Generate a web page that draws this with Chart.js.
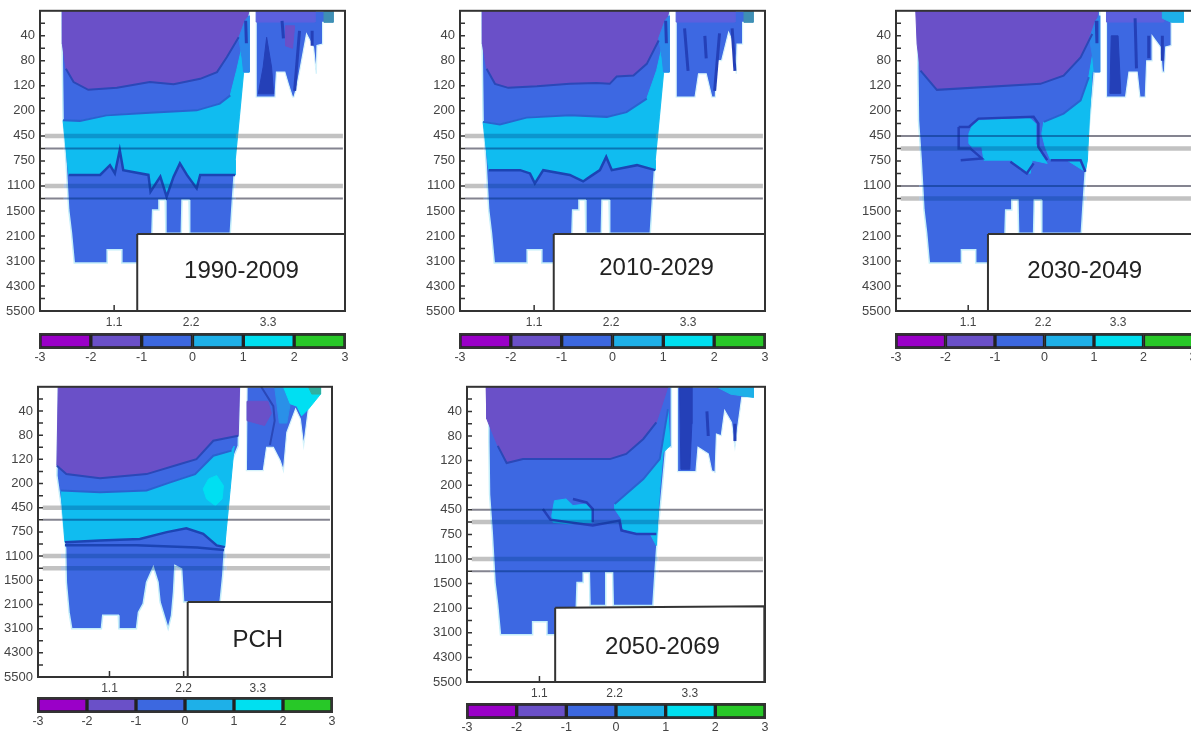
<!DOCTYPE html>
<html>
<head>
<meta charset="utf-8">
<title>Depth sections</title>
<script src="https://cdn.jsdelivr.net/npm/chart.js@4"></script>
<style>
	html, body { margin: 0; padding: 0; background: #fff; overflow: hidden; width: 1191px; height: 733px; }
	canvas { position: absolute; filter: blur(0.6px); }
</style>
</head>
<body>
<script>
// axis labels
const depthLabels = [40, 80, 120, 200, 450, 750, 1100, 1500, 2100, 3100, 4300, 5500];
const xTicks = [1.1, 2.2, 3.3];
const barEdges = [-3, -2, -1, 0, 1, 2, 3];
const barColors = ['#9a00c8', '#6a50c8', '#3c68e0', '#1eb0e8', '#00e0f0', '#28c828'];
const grayRows = [5, 5.5, 7, 7.5];
// where the gray rows cross the coloured part
const basinSpan = [.38, 2.84];

const PURPLE = '#6a50c8', BLUE = '#3d68e2', CYAN = '#10bcf0', AQUA = '#00dff2', TEAL = '#3f8fb5';
const NAVY = '#2440b8', LINE = '#2a48b8', STRIP = '#2c86ea', ISLANDTOP = '#5c60de';

// outlines, [x, depth row]
const basin = [[.35,0],[.36,2.25],[.37,4.38],[.41,5.97],[.45,7.96],[.49,8.89],[.53,10.08],[1,10.08],[1,9.55],[1.21,9.55],[1.21,10.08],[1.61,10.08],[1.64,8.89],[1.65,7.96],[1.74,7.96],[1.74,7.56],[1.83,7.56],[1.84,8.89],[2.06,8.89],[2.07,7.56],[2.17,7.56],[2.18,8.89],[2.76,8.89],[2.79,7.56],[2.83,5.97],[2.89,4.24],[2.95,2.45],[3.03,2.45],[3.03,0]];
const basinPch = [[.34,0],[.32,3.67],[.39,5.05],[.45,6.7],[.46,8.08],[.5,9.32],[.54,10],[.98,10],[1,9.45],[1.23,9.45],[1.24,10],[1.5,10],[1.53,9.32],[1.6,8.97],[1.65,8.08],[1.75,7.46],[1.82,8.08],[1.85,8.9],[1.97,10],[2.02,9.45],[2.05,8.49],[2.07,7.39],[2.17,7.53],[2.2,8.9],[2.74,8.9],[2.78,7.8],[2.81,6.43],[2.86,5.05],[2.91,3.12],[3.01,2.44],[3.03,0]];
const rightEdge = [[3.03,2.45],[2.95,2.45],[2.89,4.24],[2.83,5.97]];
const strip = [[2.88,1.1],[2.97,.4],[3.03,.2],[3.03,2.45],[2.95,2.45],[2.93,1.9]];
const stripDark = [[2.98,.4],[2.99,1.3]];
const islandTop = [[3.13,0],[3.97,0],[3.97,.45],[3.13,.45]];

// 1990-2009
const purpleA = [[.36,0],[.36,1.33],[.41,2.32],[.52,2.85],[.73,3.16],[1.14,3.08],[1.61,2.85],[1.95,2.94],[2.33,2.72],[2.57,2.45],[2.71,1.86],[2.88,1.06],[2.97,.53],[3.03,0]];
const cyanTopA = [[.37,4.38],[.61,4.4],[.99,4.18],[1.61,4.08],[2.28,3.98],[2.61,3.71],[2.76,3.38],[2.85,2.39],[2.97,.93]];
const cyanLowA = [[2.83,6.56],[2.33,6.56],[2.28,7.1],[2.14,6.56],[2.04,6.1],[1.95,6.63],[1.85,7.43],[1.76,6.63],[1.62,7.23],[1.59,6.56],[1.23,6.37],[1.18,5.57],[1.11,6.5],[1.04,6.17],[.9,6.56],[.45,6.56]];
const islandA = [[3.13,0],[4.23,0],[4.23,.46],[4.08,.46],[4.08,1.33],[4,1.39],[3.99,2.52],[3.95,1.46],[3.85,.93],[3.78,1.99],[3.71,3.05],[3.67,3.45],[3.65,3.45],[3.59,2.92],[3.54,2.45],[3.42,2.45],[3.4,3.45],[3.13,3.45]];
const islandPurpleA2 = [[3.55,.6],[3.68,.6],[3.65,1.5],[3.55,1.4]];
const tailA = [[3.16,3.32],[3.38,3.32],[3.35,2.25],[3.28,1.06],[3.23,2.25]];
const spikeA1 = [[3.5,.4],[3.52,1.1]];
const spikeA2 = [[3.75,.8],[3.68,3.2]];
const spikeA3 = [[3.93,.8],[3.93,1.4]];
const tealTopA = [[4.1,0],[4.23,0],[4.23,.46],[4.1,.46]];

// 2010-2029
const purpleB = [[.36,0],[.36,1.33],[.42,2.32],[.54,2.92],[.73,3.08],[1.14,3.02],[1.61,2.92],[1.99,2.89],[2.18,2.92],[2.28,2.63],[2.52,2.59],[2.71,2.12],[2.88,1.19],[2.97,.53],[3.03,0]];
const cyanTopB = [[.37,4.44],[.61,4.54],[.99,4.27],[1.61,4.18],[2.14,4.24],[2.42,4.05],[2.71,3.51],[2.85,2.39],[2.97,.93]];
const cyanLowB = [[2.83,6.37],[2.57,6.17],[2.21,6.37],[2.13,5.84],[2.04,6.37],[1.9,6.63],[1.8,6.82],[1.61,6.56],[1.23,6.37],[1.11,6.9],[1.04,6.5],[.9,6.37],[.45,6.37]];
const islandB = [[3.13,0],[4.23,0],[4.23,.46],[4.08,.46],[4.08,1.33],[4,1.33],[3.99,2.52],[3.95,1.33],[3.88,.86],[3.78,1.99],[3.71,1.99],[3.69,3.45],[3.64,3.45],[3.56,2.52],[3.45,2.52],[3.4,3.45],[3.13,3.45]];
const spikeB1 = [[3.25,.7],[3.3,2.4]];
const spikeB2 = [[3.54,1],[3.56,1.9]];
const spikeB3 = [[3.75,.9],[3.68,3.2]];
const spikeB4 = [[3.93,.7],[3.97,2.4]];

// 2030-2049
const purpleC = [[.33,0],[.35,1.33],[.4,2.39],[.64,3.16],[2.16,2.92],[2.5,2.59],[2.75,1.86],[2.92,.93],[3.01,0]];
const blobC = [[1.11,4.91],[1.16,4.58],[1.25,4.38],[2.01,4.31],[2.09,4.51],[2.09,5.31],[2.18,5.77],[2.26,6.1],[2.04,5.97],[2.01,6.5],[1.87,6.37],[1.72,5.97],[1.33,5.97],[1.3,5.44],[1.16,5.44],[1.11,5.31]];
const wedgeC = [[2.21,4.44],[2.5,4.11],[2.75,3.58],[2.87,2.65],[2.97,1.06],[2.98,2.39],[2.92,2.45],[2.88,4.24],[2.85,5.97],[2.82,6.43],[2.55,5.97],[2.31,5.97],[2.23,5.44],[2.18,4.91]];
const contourC1 = [[.96,4.64],[1.11,4.64],[1.25,4.31],[2.06,4.24],[2.13,4.51],[2.13,5.44],[2.26,5.97]];
const contourC2 = [[.96,4.64],[.96,5.5],[1.13,5.5],[1.3,5.9],[.99,5.97]];
const contourC3 = [[1.72,6.03],[1.96,6.5],[2.06,6.1]];
const contourC4 = [[2.31,5.97],[2.75,5.97],[2.82,6.43]];
const contourC5 = [[2.21,4.44],[2.5,4.11],[2.75,3.58],[2.87,2.65],[2.97,1.06]];
const islandC = [[3.13,0],[4.26,0],[4.26,.46],[4.08,.46],[4.08,1.39],[4,1.45],[3.98,2.45],[3.95,2.45],[3.92,1.45],[3.8,1],[3.8,2],[3.72,2],[3.7,3.45],[3.62,3.45],[3.58,2.45],[3.46,2.45],[3.41,3.45],[3.13,3.45]];
const tailC = [[3.18,3.3],[3.34,3.3],[3.3,1],[3.2,1]];
const spikeC1 = [[3.55,.3],[3.57,2.3]];
const spikeC2 = [[3.75,1],[3.75,1.9]];
const spikeC3 = [[3.95,1],[3.95,2]];
const aquaTopC = [[3.95,0],[4.26,0],[4.26,.46],[4.08,.46],[3.95,.3]];

// PCH
const purpleD = [[.34,0],[.32,3.26],[.46,3.61],[.96,3.78],[1.65,3.61],[2.15,3.19],[2.39,2.99],[2.64,2.23],[3.01,2.02],[3.03,0]];
const cyanTopD = [[.38,4.29],[.96,4.36],[1.65,4.29],[2,3.95],[2.37,3.61],[2.64,2.85],[2.91,2.64]];
const cyanLowD = [[2.81,6.63],[2.69,6.56],[2.49,6.08],[2.24,5.85],[1.95,6.01],[1.55,6.29],[.96,6.36],[.44,6.43]];
const lowLineD = [[.44,6.55],[1.5,6.55],[2.4,6.65],[2.8,6.75]];
const blobD = [[2.49,4.22],[2.57,3.81],[2.69,3.67],[2.79,4.09],[2.77,4.64],[2.67,4.91],[2.54,4.64]];
const islandD = [[3.14,0],[4.23,0],[4.23,.3],[4.05,.92],[3.98,2.44],[3.93,1.33],[3.86,.92],[3.73,1.89],[3.68,3.47],[3.63,3.05],[3.53,2.5],[3.43,2.5],[3.38,3.47],[3.13,3.47]];
const islandPurpleD = [[3.14,.6],[3.45,.6],[3.5,1.1],[3.4,1.6],[3.14,1.4]];
const arcD = [[3.35,0],[3.53,.8],[3.55,1.4],[3.48,2.4]];
const bandD = [[3.55,0],[3.68,0],[3.78,.7],[3.73,1.5],[3.62,1.5]];
const aquaD = [[3.68,0],[4.23,0],[4.23,.3],[4.05,.92],[3.95,1.2],[3.88,.8],[3.78,.7]];
const tipD = [[4.05,0],[4.23,0],[4.23,.3],[4.1,.3]];

// 2050-2069
const purpleE = [[.32,0],[.33,1.31],[.49,2.4],[.62,3.1],[.86,2.94],[2.13,2.94],[2.37,2.73],[2.62,2.12],[2.81,1.45],[2.98,0]];
const wedgeE = [[2.2,4.76],[2.62,3.75],[2.86,2.94],[2.98,.91],[3.01,2.4],[2.91,2.67],[2.86,4.15],[2.81,6.45],[2.72,5.98],[2.47,5.91],[2.32,5.78],[2.3,5.37],[2.2,4.97]];
const blobE = [[1.28,5.24],[1.32,4.63],[1.49,4.56],[1.59,4.83],[1.79,4.76],[1.86,4.97],[1.86,5.51],[1.54,5.57],[1.3,5.51]];
const contourE1 = [[1.15,4.97],[1.26,5.4],[1.88,5.64],[2.27,5.44],[2.3,5.84],[2.52,5.98],[2.81,5.98]];
const contourE2 = [[1.59,4.56],[1.79,4.7],[1.88,4.97],[1.88,5.5]];
const contourE3 = [[2.2,4.76],[2.62,3.75],[2.86,2.94],[2.98,.91]];
const islandE = [[3.12,0],[4.23,0],[4.23,.43],[4.06,.43],[4.01,1.45],[3.96,2.46],[3.91,1.45],[3.81,.97],[3.76,1.99],[3.69,1.92],[3.67,3.48],[3.62,3.41],[3.57,2.73],[3.42,2.46],[3.39,3.45],[3.12,3.45]];
const tailE = [[3.15,0],[3.33,0],[3.33,1.5],[3.3,3.35],[3.17,3.35]];
const spikeE1 = [[3.55,1],[3.57,2]];
const spikeE2 = [[3.96,1.5],[3.96,2.2]];
const tealTopE = [[3.69,0],[4.23,0],[4.23,.43],[3.9,.3]];

// label boxes
const boxA = [[1.43,8.92],[4.4,8.92],[4.4,12],[1.43,12]];
const boxB = [[1.38,8.92],[4.4,8.92],[4.4,12],[1.38,12]];
const boxC = [[1.39,8.92],[4.4,8.92],[4.4,12],[1.39,12]];
const boxD = [[2.26,8.9],[4.4,8.9],[4.4,12],[2.26,12]];
const boxE = [[1.33,8.98],[4.39,8.92],[4.39,12],[1.33,12]];

function poly(pts, color, edge, w) {
	return { pts: pts.concat([pts[0]]), fill: color, edge: edge || color, w: w === undefined ? 1 : w };
}
function line(pts, color, w) {
	return { pts: pts, edge: color, w: w || 2 };
}

const panels = [
	{
		name: '1990-2009', left: 40, top: 10, w: 305, h: 301, barTop: 334, thick: [0, 2], textAt: [2.92, 10.41],
		layers: [
			poly(basin, BLUE, '#c4eefa', 1.5),
			poly(purpleA, PURPLE),
			poly(cyanTopA.concat(rightEdge, cyanLowA), CYAN),
			poly(strip, STRIP),
			line(purpleA.slice(2, 12), LINE),
			line(cyanTopA.slice(0, 7), '#2a62d0'),
			line(cyanLowA, '#1c44b4', 2.5),
			line(stripDark, NAVY, 3),
			poly(islandA, BLUE, '#d6f3fb', 1.2),
			poly(islandTop, ISLANDTOP), poly(islandPurpleA2, PURPLE), poly(tailA, NAVY), poly(tealTopA, TEAL),
			line(spikeA1, NAVY, 3), line(spikeA2, NAVY, 3), line(spikeA3, NAVY, 3)
		],
		box: boxA
	},
	{
		name: '2010-2029', left: 460, top: 10, w: 305, h: 301, barTop: 334, thick: [0, 2], textAt: [2.85, 10.3],
		layers: [
			poly(basin, BLUE, '#c4eefa', 1.5),
			poly(purpleB, PURPLE),
			poly(cyanTopB.concat(rightEdge, cyanLowB), CYAN),
			poly(strip, STRIP),
			line(purpleB.slice(2, 13), LINE),
			line(cyanTopB.slice(0, 7), '#2a62d0'),
			line(cyanLowB, '#1c44b4', 2.5),
			line(stripDark, NAVY, 3),
			poly(islandB, BLUE, '#d6f3fb', 1.2),
			poly(islandTop, ISLANDTOP), poly(tealTopA, TEAL),
			line(spikeB1, NAVY, 3), line(spikeB2, NAVY, 3), line(spikeB3, NAVY, 3), line(spikeB4, NAVY, 3)
		],
		box: boxB
	},
	{
		name: '2030-2049', left: 896, top: 10, w: 297, h: 301, barTop: 334, thick: [1, 3], textAt: [2.81, 10.41],
		layers: [
			poly(basin, BLUE, '#c4eefa', 1.5),
			poly(purpleC, PURPLE),
			poly(blobC, CYAN), poly(wedgeC, CYAN),
			poly(strip, STRIP),
			line(purpleC.slice(2, 8), LINE),
			line(contourC1, NAVY, 2.5), line(contourC2, NAVY, 2.5), line(contourC3, NAVY, 2.5), line(contourC4, NAVY, 2.5), line(contourC5.slice(0, 4), '#2a62d0'),
			line(stripDark, NAVY, 3),
			poly(islandC, BLUE, '#d6f3fb', 1.2),
			poly(islandTop, ISLANDTOP), poly(tailC, NAVY), poly(aquaTopC, '#1eb0e8'),
			line(spikeC1, NAVY, 3), line(spikeC2, NAVY, 3), line(spikeC3, NAVY, 3)
		],
		box: boxC
	},
	{
		name: 'PCH', left: 38, top: 386, w: 294, h: 291, barTop: 698, thick: [0, 2, 3], textAt: [3.3, 10.49],
		layers: [
			poly(basinPch, BLUE, '#c4eefa', 1.5),
			poly(purpleD, PURPLE),
			poly(cyanTopD.concat(rightEdge.slice(1), cyanLowD), CYAN),
			poly(blobD, AQUA),
			line(purpleD.slice(1, 9), LINE),
			line(cyanTopD, '#2a62d0'),
			line(cyanLowD, '#1c44b4', 2.5),
			line(lowLineD, '#1c44b4', 2.5),
			poly(islandD, BLUE, '#d6f3fb', 1.2),
			poly(islandPurpleD, PURPLE), poly(bandD, '#2a90e8'), poly(aquaD, AQUA), poly(tipD, '#30b0a0'),
			line(arcD, LINE)
		],
		box: boxD
	},
	{
		name: '2050-2069', left: 467, top: 386, w: 298, h: 296, barTop: 704, thick: [1, 2], textAt: [2.9, 10.58],
		layers: [
			poly(basin, BLUE, '#c4eefa', 1.5),
			poly(purpleE, PURPLE),
			poly(wedgeE, CYAN), poly(blobE, CYAN),
			line(purpleE.slice(2, 9), LINE),
			line(contourE1, NAVY, 2.5), line(contourE2, NAVY, 2.5), line(contourE3, '#2a62d0'),
			poly(islandE, BLUE, '#d6f3fb', 1.2),
			poly(tailE, NAVY), poly(tealTopE, '#1eb0e8'),
			line(spikeE1, NAVY, 3), line(spikeE2, NAVY, 3)
		],
		box: boxE
	}
];

const FONT = '"Liberation Sans", Arial, sans-serif';
const INK = '#444';

function addCanvas(x, y, w, h) {
	const c = document.createElement('canvas');
	c.width = w;
	c.height = h;
	c.style.left = x + 'px';
	c.style.top = y + 'px';
	c.style.width = w + 'px';
	c.style.height = h + 'px';
	document.body.appendChild(c);
	return c;
}

// ticks point inwards, box frame goes over everything
const innerTicks = {
	id: 'innerTicks',
	beforeDatasetsDraw(chart) {
		const { ctx, chartArea: a, scales } = chart;
		ctx.save();
		ctx.strokeStyle = '#333';
		ctx.lineWidth = 1.5;
		ctx.beginPath();
		for (let i = 1; i < depthLabels.length * 2; i++) {
			const y = scales.y.getPixelForValue(i / 2);
			ctx.moveTo(a.left, y);
			ctx.lineTo(a.left + 5, y);
		}
		xTicks.forEach(function (v) {
			const x = scales.x.getPixelForValue(v);
			ctx.moveTo(x, a.bottom);
			ctx.lineTo(x, a.bottom - 6);
		});
		ctx.stroke();
		ctx.restore();
	}
};
const plotFrame = {
	id: 'plotFrame',
	afterDraw(chart) {
		const { ctx, chartArea: a } = chart;
		ctx.save();
		ctx.strokeStyle = '#333';
		ctx.lineWidth = 2;
		ctx.strokeRect(a.left, a.top, a.right - a.left, a.bottom - a.top);
		ctx.restore();
	}
};
const boxText = {
	id: 'boxText',
	afterDatasetsDraw(chart) {
		const p = chart.options.plugins.boxText;
		const { ctx, scales } = chart;
		ctx.save();
		ctx.font = '24px ' + FONT;
		ctx.fillStyle = '#222';
		ctx.textAlign = 'center';
		ctx.textBaseline = 'middle';
		ctx.fillText(p.text, scales.x.getPixelForValue(p.at[0]), scales.y.getPixelForValue(p.at[1]));
		ctx.restore();
	}
};

function drawPanel(p) {
	const layers = p.layers.slice();
	// gray outside the coloured part, darker tint across it
	grayRows.forEach(function (row, i) {
		const thick = p.thick.indexOf(i) >= 0;
		const gray = thick ? 'rgba(110,110,110,0.42)' : 'rgba(50,50,70,0.6)';
		const tint = thick ? 'rgba(0,60,130,0.3)' : 'rgba(0,45,120,0.5)';
		const w = thick ? 4.5 : 2;
		layers.push(line([[.11, row], [basinSpan[0], row]], gray, w));
		layers.push(line([[basinSpan[0], row], [basinSpan[1], row]], tint, w));
		layers.push(line([[basinSpan[1], row], [4.37, row]], gray, w));
	});
	layers.push(poly(p.box, '#fff', '#333', 2));

	const datasets = layers.map(function (l, i) {
		return {
			data: l.pts.map(function (q) { return { x: q[0], y: q[1] }; }),
			backgroundColor: l.fill || 'transparent',
			borderColor: l.edge,
			borderWidth: l.w,
			fill: l.fill ? 'shape' : false,
			showLine: true,
			pointRadius: 0,
			tension: 0,
			order: layers.length - i
		};
	});

	new Chart(addCanvas(p.left - 40, p.top - 12, p.w + 48, p.h + 36), {
		type: 'scatter',
		data: { datasets: datasets },
		plugins: [innerTicks, plotFrame, boxText],
		options: {
			responsive: false,
			animation: false,
			layout: { padding: { top: 12, right: 8 } },
			plugins: {
				legend: { display: false },
				tooltip: { enabled: false },
				boxText: { text: p.name, at: p.textAt }
			},
			scales: {
				x: {
					type: 'linear',
					min: 0.04,
					max: 4.4,
					afterBuildTicks: function (s) { s.ticks = xTicks.map(function (v) { return { value: v }; }); },
					afterFit: function (s) { s.height = 24; },
					grid: { display: false, drawTicks: false },
					border: { display: false },
					ticks: {
						padding: 4,
						maxRotation: 0,
						autoSkip: false,
						color: INK,
						font: { family: FONT, size: 12 },
						callback: function (v) { return v.toFixed(1); }
					}
				},
				y: {
					type: 'linear',
					reverse: true,
					min: 0,
					max: 12,
					afterBuildTicks: function (s) { s.ticks = depthLabels.map(function (d, i) { return { value: i + 1 }; }); },
					afterFit: function (s) { s.width = 40; },
					grid: { display: false, drawTicks: false },
					border: { display: false },
					ticks: {
						padding: 5,
						autoSkip: false,
						color: INK,
						font: { family: FONT, size: 13 },
						callback: function (v) { return depthLabels[v - 1]; }
					}
				}
			}
		}
	});
}

function drawColorBar(p) {
	const datasets = barColors.map(function (color, i) {
		return {
			data: [[barEdges[i], barEdges[i + 1]]],
			backgroundColor: color,
			borderColor: '#222',
			borderWidth: 2,
			borderSkipped: false,
			barPercentage: 1,
			categoryPercentage: 1,
			grouped: false
		};
	});
	new Chart(addCanvas(p.left - 12, p.barTop - 4, p.w + 24, 40), {
		type: 'bar',
		data: { labels: [''], datasets: datasets },
		plugins: [plotFrame],
		options: {
			indexAxis: 'y',
			responsive: false,
			animation: false,
			layout: { padding: { top: 4, left: 12, right: 12 } },
			plugins: { legend: { display: false }, tooltip: { enabled: false } },
			scales: {
				y: { display: false },
				x: {
					type: 'linear',
					min: -3,
					max: 3,
					afterBuildTicks: function (s) { s.ticks = barEdges.map(function (v) { return { value: v }; }); },
					afterFit: function (s) { s.height = 22; },
					grid: { display: false, drawTicks: false },
					border: { display: false },
					ticks: {
						padding: 2,
						maxRotation: 0,
						autoSkip: false,
						color: INK,
						font: { family: FONT, size: 12.5 }
					}
				}
			}
		}
	});
}

panels.forEach(function (p) {
	drawPanel(p);
	drawColorBar(p);
});
</script>
</body>
</html>
